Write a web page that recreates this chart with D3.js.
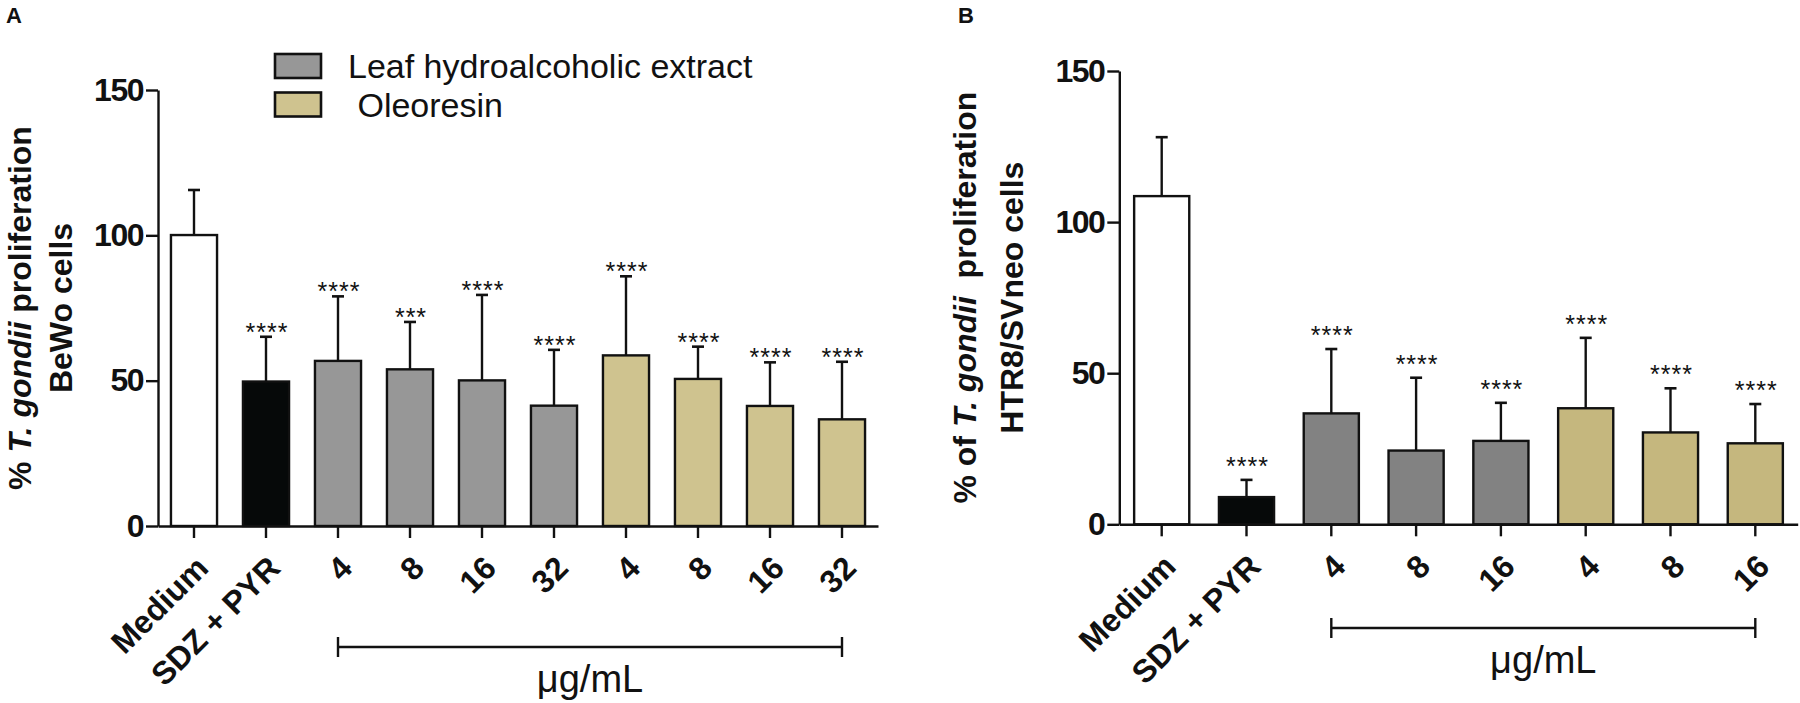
<!DOCTYPE html>
<html>
<head>
<meta charset="utf-8">
<script src="https://cdn.jsdelivr.net/npm/d3@7"></script>
<style>
  body { margin: 0; background: #fff; }
  text { font-family: "Liberation Sans", Arial, Helvetica, sans-serif; }
</style>
</head>
<body>
<div id="chart"></div>
<script>
// panel A - BeWo cells
var labelsA = ["Medium", "SDZ + PYR", "4", "8", "16", "32", "4", "8", "16", "32"];
var groupsA = ["medium", "drug", "leaf", "leaf", "leaf", "leaf", "oleo", "oleo", "oleo", "oleo"];
var meansA = [100.1, 49.7, 56.8, 53.9, 50.1, 41.4, 58.7, 50.6, 41.3, 36.7];
var sdA = [15.5, 15.4, 22.2, 16.3, 29.4, 19.2, 27.2, 11.1, 15.0, 19.8];
var sigA = ["", "****", "****", "***", "****", "****", "****", "****", "****", "****"];

// panel B - HTR8/SVneo cells
var labelsB = ["Medium", "SDZ + PYR", "4", "8", "16", "4", "8", "16"];
var groupsB = ["medium", "drug", "leaf", "leaf", "leaf", "oleo", "oleo", "oleo"];
var meansB = [108.6, 9.0, 36.7, 24.4, 27.6, 38.4, 30.4, 26.8];
var sdB = [19.5, 5.7, 21.3, 24.1, 12.6, 23.3, 14.6, 13.0];
var sigB = ["", "****", "****", "****", "****", "****", "****", "****"];

var yTicks = [0, 50, 100, 150];
var legendKeys = ["leaf", "oleo"];
var legendLabels = ["Leaf hydroalcoholic extract", " Oleoresin"];
var unitLabel = "\u03bcg/mL";

var svg = d3.select("#chart")
    .append("svg")
    .attr("width", 1800)
    .attr("height", 703)
    .style("display", "block");

function drawPanel(cfg) {
    var n = cfg.labels.length;
    var x = d3.scaleBand()
        .domain(d3.range(n))
        .range(cfg.xRange)
        .paddingInner(cfg.pad)
        .paddingOuter(cfg.pad / 2);
    var y = d3.scaleLinear()
        .domain([0, 150])
        .range(cfg.yRange);

    var g = svg.append("g");

    // bars
    g.selectAll("rect.bar")
        .data(cfg.means)
        .enter()
        .append("rect")
        .attr("class", "bar")
        .attr("x", function (d, i) { return x(i); })
        .attr("y", function (d) { return y(d); })
        .attr("width", x.bandwidth())
        .attr("height", function (d) { return y(0) - y(d); })
        .attr("fill", function (d, i) { return cfg.colors[cfg.groups[i]]; })
        .attr("stroke", "#111")
        .attr("stroke-width", 2.4);

    // upper error bars
    var cx = function (i) { return x(i) + x.bandwidth() / 2; };
    g.selectAll("line.err")
        .data(cfg.means)
        .enter()
        .append("line")
        .attr("x1", function (d, i) { return cx(i); })
        .attr("x2", function (d, i) { return cx(i); })
        .attr("y1", function (d) { return y(d); })
        .attr("y2", function (d, i) { return y(d + cfg.sd[i]); })
        .attr("stroke", "#111")
        .attr("stroke-width", 2.4);
    g.selectAll("line.cap")
        .data(cfg.means)
        .enter()
        .append("line")
        .attr("x1", function (d, i) { return cx(i) - 6; })
        .attr("x2", function (d, i) { return cx(i) + 6; })
        .attr("y1", function (d, i) { return y(d + cfg.sd[i]); })
        .attr("y2", function (d, i) { return y(d + cfg.sd[i]); })
        .attr("stroke", "#111")
        .attr("stroke-width", 2.6);

    // significance stars
    g.selectAll("text.sig")
        .data(cfg.sig)
        .enter()
        .append("text")
        .attr("x", function (d, i) { return cx(i) + 1; })
        .attr("y", function (d, i) { return y(cfg.means[i] + cfg.sd[i]) + cfg.starShift; })
        .attr("text-anchor", "middle")
        .attr("font-size", 25)
        .attr("letter-spacing", 1)
        .attr("fill", "#111")
        .text(function (d) { return d; });

    // y axis
    var yAxis = g.append("g")
        .attr("transform", "translate(" + cfg.xRange[0] + ",0)")
        .call(d3.axisLeft(y).tickValues(yTicks).tickSize(12).tickSizeOuter(0).tickPadding(3));
    yAxis.selectAll("text")
        .attr("font-size", 32)
        .attr("font-weight", "bold")
        .attr("letter-spacing", -1.5)
        .attr("fill", "#111")
        .style("font-family", "'Liberation Sans', Arial, sans-serif");

    // x axis
    var xAxis = g.append("g")
        .attr("transform", "translate(0," + cfg.yRange[0] + ")")
        .call(d3.axisBottom(x).tickSize(12).tickSizeOuter(0)
            .tickFormat(function (i) { return cfg.labels[i]; }));
    xAxis.selectAll("text")
        .attr("font-size", 32)
        .attr("font-weight", "bold")
        .attr("fill", "#111")
        .attr("text-anchor", "end")
        .attr("y", 0)
        .attr("dy", 0)
        .attr("transform", "translate(16,44) rotate(-45)")
        .style("font-family", "'Liberation Sans', Arial, sans-serif");

    [yAxis, xAxis].forEach(function (a) {
        a.select(".domain").attr("stroke", "#111").attr("stroke-width", 2.4);
        a.selectAll(".tick line").attr("stroke", "#111").attr("stroke-width", 2.4);
    });

    // dose bracket
    var bx0 = cx(cfg.bracket[0]), bx1 = cx(cfg.bracket[1]);
    g.append("line")
        .attr("x1", bx0).attr("x2", bx1)
        .attr("y1", cfg.bracketY).attr("y2", cfg.bracketY)
        .attr("stroke", "#111").attr("stroke-width", 2.4);
    [bx0, bx1].forEach(function (bx) {
        g.append("line")
            .attr("x1", bx).attr("x2", bx)
            .attr("y1", cfg.bracketY - 10).attr("y2", cfg.bracketY + 10)
            .attr("stroke", "#111").attr("stroke-width", 2.4);
    });
    g.append("text")
        .attr("x", (bx0 + bx1) / 2)
        .attr("y", cfg.bracketY + 45)
        .attr("text-anchor", "middle")
        .attr("font-size", 38)
        .attr("fill", "#111")
        .text(unitLabel);

    // y title, two lines
    var midY = (cfg.yRange[0] + cfg.yRange[1]) / 2;
    cfg.title.forEach(function (parts, k) {
        var t = g.append("text")
            .attr("transform", "translate(" + cfg.titleX[k] + "," + midY + ") rotate(-90)")
            .attr("text-anchor", "middle")
            .attr("font-size", 32)
            .attr("font-weight", "bold")
            .attr("fill", "#111")
            .style("white-space", "pre");
        parts.forEach(function (p) {
            t.append("tspan")
                .attr("font-style", p.italic ? "italic" : "normal")
                .text(p.text);
        });
    });

    // panel letter
    g.append("text")
        .attr("x", cfg.letterX)
        .attr("y", 23)
        .attr("font-size", 22)
        .attr("font-weight", "bold")
        .attr("fill", "#111")
        .text(cfg.letter);

    return { x: x, y: y };
}

var colorsA = { medium: "#ffffff", drug: "#060909", leaf: "#979797", oleo: "#cfc38f" };
var colorsB = { medium: "#ffffff", drug: "#060909", leaf: "#828282", oleo: "#c5b77e" };

drawPanel({
    labels: labelsA, groups: groupsA, means: meansA, sd: sdA, sig: sigA,
    colors: colorsA,
    xRange: [158, 878], yRange: [526, 90], pad: 0.36,
    starShift: 4,
    bracket: [2, 9], bracketY: 647,
    title: [
        [{ text: "% " }, { text: "T. gondii", italic: true }, { text: " proliferation" }],
        [{ text: "BeWo cells" }]
    ],
    titleX: [31, 72],
    letter: "A", letterX: 6
});

drawPanel({
    labels: labelsB, groups: groupsB, means: meansB, sd: sdB, sig: sigB,
    colors: colorsB,
    xRange: [1119.3, 1797.7], yRange: [524.3, 71], pad: 0.35,
    starShift: -5,
    bracket: [2, 7], bracketY: 628,
    title: [
        [{ text: "% of " }, { text: "T. gondii", italic: true }, { text: "  proliferation" }],
        [{ text: "HTR8/SVneo cells" }]
    ],
    titleX: [976, 1023],
    letter: "B", letterX: 958
});

// legend (panel A)
var legend = svg.append("g");
legend.selectAll("rect")
    .data(legendKeys)
    .enter()
    .append("rect")
    .attr("x", 275)
    .attr("y", function (d, i) { return 54 + i * 38.5; })
    .attr("width", 46)
    .attr("height", 24)
    .attr("fill", function (d) { return colorsA[d]; })
    .attr("stroke", "#111")
    .attr("stroke-width", 2.6);
legend.selectAll("text")
    .data(legendLabels)
    .enter()
    .append("text")
    .attr("x", 348)
    .attr("y", function (d, i) { return 78 + i * 39; })
    .attr("font-size", 34)
    .attr("fill", "#111")
    .style("white-space", "pre")
    .text(function (d) { return d; });
</script>
</body>
</html>
